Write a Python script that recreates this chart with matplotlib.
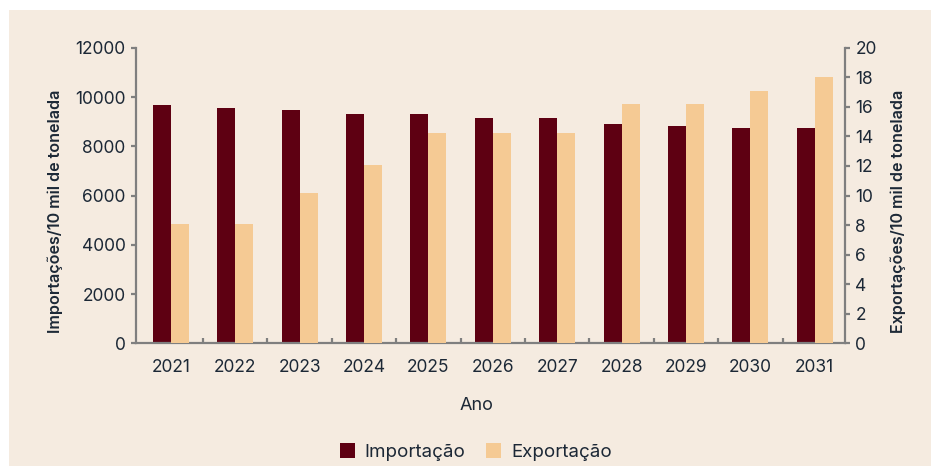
import numpy as np
import matplotlib.pyplot as plt
from matplotlib.patches import Rectangle, Patch
from matplotlib.ticker import FixedLocator

plt.rcParams['font.family'] = ['Inter', 'DejaVu Sans']

years = ['2021', '2022', '2023', '2024', '2025', '2026',
         '2027', '2028', '2029', '2030', '2031']
importacao = [9680, 9555, 9475, 9310, 9310, 9150, 9150, 8905, 8825, 8745, 8745]
exportacao = [8.1, 8.1, 10.2, 12.1, 14.2, 14.2, 14.2, 16.2, 16.2, 17.1, 18.0]

color_imp = '#5e0012'
color_exp = '#f5ca94'
bg = '#f5ebe0'
text_color = '#1c2836'
spine_color = '#7f7f7f'

fig = plt.figure(figsize=(9.31, 4.66), dpi=100)
fig.patch.set_facecolor('white')
fig.patches.append(Rectangle((9 / 931, 0), 1, 456 / 466, transform=fig.transFigure,
                             facecolor=bg, edgecolor='none', zorder=-10))

ax = fig.add_axes([136 / 931, 1 - 343.3 / 466, 709 / 931, 295.5 / 466])
ax.set_facecolor('none')
ax2 = ax.twinx()

x = np.arange(len(years))
w = 0.28
ax.bar(x - w / 2, importacao, width=w, color=color_imp, zorder=2)
ax2.bar(x + w / 2, exportacao, width=w, color=color_exp, zorder=2)

ax.set_xlim(-0.54, 10.47)
ax.set_ylim(0, 12000)
ax2.set_ylim(0, 20)
ax.set_yticks(range(0, 12001, 2000))
ax2.set_yticks(range(0, 21, 2))

ax.set_xticks(x)
ax.set_xticklabels(years)
ax.xaxis.set_minor_locator(FixedLocator(x[:-1] + 0.5))

for a in (ax, ax2):
    for s in a.spines.values():
        s.set_color(spine_color)
        s.set_linewidth(1.6)
    a.spines['top'].set_visible(False)

ax.spines['right'].set_visible(False)
ax2.spines['left'].set_visible(False)
ax2.spines['bottom'].set_visible(False)

ax.tick_params(axis='x', which='major', length=0, pad=11,
               labelsize=12.5, labelcolor=text_color)
ax.tick_params(axis='x', which='minor', direction='in', length=3.5,
               width=1.6, color=spine_color)
ax.tick_params(axis='y', direction='out', length=3.5, width=1.6,
               color=spine_color, pad=4, labelsize=12.5, labelcolor=text_color)
ax2.tick_params(axis='y', direction='out', length=3.5, width=1.6,
                color=spine_color, pad=4, labelsize=12.5, labelcolor=text_color)

fig.text(55 / 931, 1 - 211 / 466, 'Importações/10 mil de tonelada', rotation=90,
         ha='center', va='center', fontsize=11.6, fontweight='semibold', color=text_color)
fig.text(898 / 931, 1 - 211 / 466, 'Exportações/10 mil de tonelada', rotation=90,
         ha='center', va='center', fontsize=11.6, fontweight='semibold', color=text_color)
fig.text(476 / 931, 1 - 405 / 466, 'Ano', ha='center', va='center',
         fontsize=13, color=text_color)

handles = [Patch(facecolor=color_imp, label='Importação'),
           Patch(facecolor=color_exp, label='Exportação')]
leg = fig.legend(handles=handles, loc='center', ncol=2,
                 bbox_to_anchor=(476 / 931, 1 - 452 / 466), frameon=False,
                 fontsize=13.5, handlelength=0.8, handleheight=0.8,
                 handletextpad=0.55, columnspacing=1.1)
for t in leg.get_texts():
    t.set_color(text_color)

fig.savefig('out.png', dpi=100, facecolor=fig.get_facecolor())
